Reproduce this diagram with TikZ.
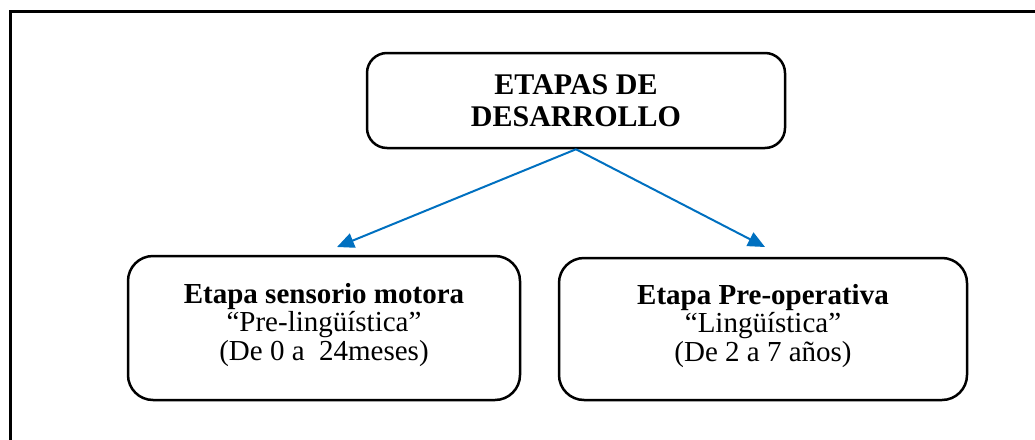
\documentclass[tikz,border=0pt]{standalone}
\usepackage{fontspec}
\setmainfont{Liberation Serif}
\usetikzlibrary{arrows.meta}
\definecolor{arrowblue}{RGB}{0,112,192}
\newcommand{\lowstrut}{\rule[-13pt]{0pt}{13pt}}
\begin{document}
\begin{tikzpicture}[x=1pt,y=-1pt,
  box/.style={draw, line width=2.5pt, rounded corners=25pt, align=center, inner sep=0pt},
  link/.style={draw=arrowblue, line width=2pt, -{Triangle[length=17pt,width=15pt]}}]
\useasboundingbox (0,0) rectangle (1035,439);
\clip (0,0) rectangle (1035,439);
\draw[line width=3pt] (10,470) -- (10,11) -- (1060,11);
\node[box, rounded corners=20pt, minimum width=418pt, minimum height=95pt,
  font=\fontsize{30}{31.6}\selectfont\bfseries] (top) at (576,100.5) {ETAPAS DE\\DESARROLLO};
\node[box, minimum width=392pt, minimum height=144pt,
  font=\fontsize{29}{28.5}\selectfont] (left) at (324,328)
  {\textbf{Etapa sensorio motora}\\“Pre-lingüística”\\(De 0 a~~24meses)\lowstrut};
\node[box, minimum width=408pt, minimum height=142pt,
  font=\fontsize{29}{28.5}\selectfont] (right) at (763,329)
  {\textbf{Etapa Pre-operativa}\\“Lingüística”\\(De 2 a 7 años)\lowstrut};
\coordinate (lt) at (337,247);
\coordinate (rt) at (765,247);
\draw[link] (top.south) -- (lt);
\draw[link] (top.south) -- (rt);
\end{tikzpicture}
\end{document}
